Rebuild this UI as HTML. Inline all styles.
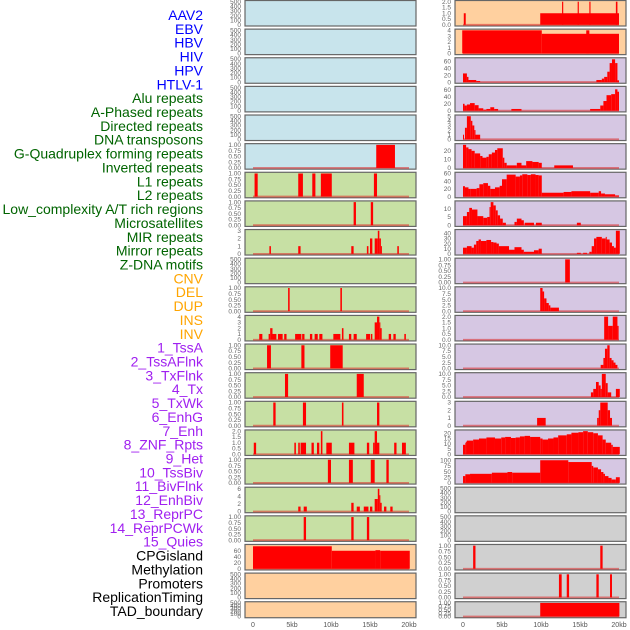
<!DOCTYPE html>
<html><head><meta charset="utf-8"><style>
html,body{margin:0;padding:0;background:#fff}
svg{display:block;font-family:"Liberation Sans",sans-serif}
</style></head><body>
<svg id="c" width="630" height="630" viewBox="0 0 630 630"></svg>
<script>
// ---------- labels ----------
const labelNames = ["AAV2","EBV","HBV","HIV","HPV","HTLV-1","Alu repeats","A-Phased repeats","Directed repeats","DNA transposons","G-Quadruplex forming repeats","Inverted repeats","L1 repeats","L2 repeats","Low_complexity A/T rich regions","Microsatellites","MIR repeats","Mirror repeats","Z-DNA motifs","CNV","DEL","DUP","INS","INV","1_TssA","2_TssAFlnk","3_TxFlnk","4_Tx","5_TxWk","6_EnhG","7_Enh","8_ZNF_Rpts","9_Het","10_TssBiv","11_BivFlnk","12_EnhBiv","13_ReprPC","14_ReprPCWk","15_Quies","CPGisland","Methylation","Promoters","ReplicationTiming","TAD_boundary"];
const labelGroups = [6,13,5,15,5];
const groupColors = ["#0000ff","#006400","#ffa500","#a020f0","#000000"];
const xTicks = [0,5,10,15,20];
const xTickLabels = ["0","5kb","10kb","15kb","20kb"];

// ---------- left column data [startKb, endKb, value] ----------
const L5 = [[15.8,18.2,1]];
const L6 = [[0.2,0.6,1],[5.8,6.4,1],[7.6,8.0,1],[8.7,10.1,1],[15.5,15.9,1]];
const L7 = [[12.9,13.2,1],[15.1,15.4,1]];
const L8 = [[2.1,2.3,1],[5.8,6.1,1],[12.6,12.9,1],[14.6,14.8,1],[15.0,15.3,2],[15.6,16.0,2],[16.0,16.2,3],[16.2,16.4,2],[16.4,16.5,1],[18.5,18.7,1]];
const L10 = [[4.5,4.7,1],[11.2,11.4,1]];
const L11 = [[0.8,1.2,1],[2.0,2.2,1],[2.2,2.5,2],[2.5,3.0,1],[3.2,3.8,1],[4.0,4.3,1],[5.4,6.2,1],[6.3,6.6,1],[7.3,7.6,1],[7.9,8.3,1],[8.5,8.9,1],[10.3,11.2,1],[11.4,11.6,2],[12.3,12.6,1],[12.9,13.3,1],[14.5,15.0,1],[15.1,15.3,1],[15.6,15.9,3],[15.9,16.2,4],[16.2,16.3,3],[16.3,16.5,2],[17.4,17.7,1],[18.0,18.3,1],[19.4,19.6,1]];
const L12 = [[1.8,2.3,1],[6.2,6.6,1],[9.9,11.5,1]];
const L13 = [[4.1,4.5,1],[13.3,14.2,1]];
const L14 = [[2.6,2.9,1],[6.4,6.8,1],[11.4,11.6,1],[15.9,16.2,1]];
const L15 = [[0.1,0.4,1],[5.3,5.5,1],[5.8,6.0,1],[6.1,6.8,1],[7.5,7.8,1],[8.2,8.5,1],[8.7,8.9,2],[9.4,10.1,1],[12.3,13.0,1],[14.6,14.9,1],[15.4,15.6,1],[15.6,15.9,2],[15.9,16.2,1],[18.1,18.4,1],[19.1,19.6,1]];
const L16 = [[9.6,10.0,1],[12.3,12.8,1],[15.1,15.6,1],[17.1,17.4,1]];
const L17 = [[5.8,6.1,1.3],[6.5,6.9,1.3],[12.6,12.9,2.3],[13.3,13.7,1.3],[14.2,14.8,1.3],[15.0,15.3,1.3],[15.6,16.0,3.3],[16.0,16.2,6],[16.2,16.3,4.3],[16.3,16.5,2.3],[16.8,17.1,1.3],[17.6,17.9,1.3]];
const L18 = [[6.5,6.8,1],[12.6,12.9,1],[14.6,14.9,1]];
const L19 = [[0,10.1,75],[10.1,15.7,60],[15.7,16.3,62],[16.3,20.1,60]];

// ---------- right column data ----------
const R0 = [[0.1,0.35,1],[9.9,20.0,1],[12.7,12.85,2],[14.7,14.85,2],[16.2,16.35,2],[19.6,19.8,2]];
const R1 = [[-0.1,10.1,4],[10.1,20.0,3.4],[15.8,16.2,4]];
const R2 = [[0,0.5,25],[0.5,0.7,15],[0.7,1.7,6],[1.7,2.2,3],[17.1,17.8,6],[17.8,18.1,10],[18.1,18.5,15],[18.5,18.8,30],[18.8,19.1,55],[19.1,19.5,66],[19.5,19.8,55],[19.8,20.0,5]];
const R3 = [[0,0.2,20],[0.2,0.5,15],[0.5,0.9,18],[0.9,1.5,22],[1.5,2.0,16],[2.0,2.6,7],[2.6,3.0,3],[3.0,3.5,5],[3.5,4.0,10],[4.0,4.5,5],[6.2,7.5,5],[16.3,17.6,5],[17.6,18.0,15],[18.0,18.4,28],[18.4,19.0,45],[19.0,19.5,48],[19.5,19.8,62],[19.8,20.0,55]];
const R4 = [[0,0.1,1],[0.25,0.5,2.5],[0.5,1.0,5],[1.0,1.2,4],[1.2,1.45,3],[1.45,1.6,2],[1.6,2.2,1]];
const R5 = [[0,0.4,27],[0.4,0.7,24],[0.7,1.1,22],[1.1,1.5,20],[1.5,2.2,17],[2.2,2.5,14],[2.5,3.0,12],[3.0,3.3,13],[3.3,3.7,16],[3.7,4.1,18],[4.1,4.4,21],[4.4,5.1,23],[5.1,5.3,12],[5.3,5.6,6],[5.6,6.9,3],[6.9,7.5,6],[7.5,8.1,3],[8.1,8.9,8],[8.9,9.7,7],[9.7,10.1,6],[11.7,14.1,3]];
const R6 = [[0,0.25,27],[0.25,0.7,24],[0.7,1.0,20],[1.0,1.75,20],[1.75,2.1,22],[2.1,2.6,32],[2.6,3.2,35],[3.2,3.5,28],[3.5,4.1,20],[4.1,4.7,24],[4.7,5.0,28],[5.0,5.6,45],[5.6,6.75,57],[6.75,7.3,52],[7.3,7.6,55],[7.6,8.25,58],[8.25,8.7,56],[8.7,9.3,58],[9.3,9.7,56],[9.7,10.1,55],[10.1,12.9,10],[12.9,13.9,12],[13.9,16.3,14],[16.3,17.4,10],[17.4,17.7,14],[17.7,18.2,8],[18.2,19.5,6],[19.5,20.0,3]];
const R7 = [[0,0.5,5.5],[0.5,0.8,8],[0.8,1.15,10.5],[1.15,1.85,9.5],[1.85,2.6,5.5],[2.6,3.1,4.5],[3.1,3.4,5],[3.4,3.55,11],[3.55,3.9,14],[3.9,4.2,12],[4.2,4.45,9],[4.45,4.75,6],[4.75,5.1,4],[5.1,5.5,1.5],[6.6,6.9,2],[6.9,7.5,4],[7.5,7.8,3],[7.9,9.1,1.5],[9.35,10.1,1.5],[14.6,15.1,1.5]];
const R8 = [[0,0.5,12],[0.5,1.1,15],[1.1,1.4,12],[1.4,1.7,18],[1.7,2.0,25],[2.0,2.3,28],[2.3,3.0,25],[3.0,3.6,27],[3.6,3.9,23],[3.9,4.3,22],[4.3,4.6,20],[4.6,5.9,15],[5.9,6.6,8],[6.6,7.5,13],[7.5,7.8,8],[7.8,9.1,4],[9.1,9.7,7],[9.7,10.1,10],[14.6,15.1,2],[15.4,15.9,2],[16.2,16.5,4],[16.5,16.8,15],[16.8,17.1,30],[17.1,17.8,33],[17.8,18.3,30],[18.3,18.4,33],[18.4,18.8,28],[18.8,19.1,22],[19.1,19.35,15],[19.35,19.6,12],[19.6,20.1,45]];
const R9 = [[13.1,13.7,1]];
const R10 = [[9.9,10.2,10],[10.2,10.4,8.5],[10.4,10.7,5.5],[10.7,11.0,3.5],[11.0,11.2,2.5],[11.2,12.3,1.5]];
const R11 = [[18.1,18.6,2],[18.6,19.2,1.2],[19.2,19.8,2],[19.8,19.95,1.2]];
const R12 = [[17.65,18.0,1.5],[18.0,18.2,4.5],[18.2,18.5,8.5],[18.5,18.8,10],[18.8,19.05,4.5],[19.05,19.3,3.5],[19.3,19.55,2.5],[19.55,19.8,1.5]];
const R13 = [[16.4,16.7,2],[16.7,17.05,3.5],[17.05,17.4,6.5],[17.4,17.65,5],[17.65,17.8,3.5],[17.8,18.3,10],[18.3,18.55,6],[18.55,19.0,2],[19.6,20.1,3.5]];
const R14 = [[9.5,10.6,1],[17.2,17.4,1],[17.4,17.6,2],[17.6,18.55,3],[18.55,18.85,2],[18.85,19.1,1]];
const R15 = [[0,0.3,9],[0.3,0.4,11],[0.4,0.5,12],[0.5,1.3,13],[1.3,2.05,14],[2.05,3.0,15],[3.0,4.1,16],[4.1,4.9,15],[4.9,5.4,16],[5.4,6.15,16.5],[6.15,6.75,15.5],[6.75,7.3,16],[7.3,7.9,17],[7.9,8.6,17.5],[8.6,9.9,16.5],[9.9,10.2,15],[10.2,10.9,14],[10.9,11.6,15],[11.6,12.2,16],[12.2,13.3,18],[13.3,13.9,19],[13.9,14.8,20.5],[14.8,15.4,21],[15.4,16.0,22],[16.0,16.7,21],[16.7,17.3,20],[17.3,17.9,18],[17.9,18.3,14],[18.3,19.0,11],[19.0,19.2,9],[19.2,20.1,7]];
const R16 = [[0,0.3,30],[0.3,0.9,38],[0.9,3.7,40],[3.7,5.7,45],[5.7,6.3,48],[6.3,9.9,45],[9.9,13.5,100],[13.5,16.5,92],[16.5,16.7,75],[16.7,17.3,68],[17.3,17.7,60],[17.7,18.0,48],[18.0,18.2,40],[18.2,18.65,30],[18.65,19.05,22],[19.05,19.6,15],[19.6,20.1,25]];
const R19 = [[1.3,1.6,1],[17.6,17.9,1]];
const R20 = [[12.3,12.65,1],[13.3,13.6,1],[17.1,17.4,1],[18.85,19.1,1]];
const R21 = [[9.9,20.05,1]];

// tick sets
const T500=[0,100,200,300,400,500], T1=[0,0.25,0.5,0.75,1], T2=[0,0.5,1,1.5,2], T10=[0,2.5,5,7.5,10];
const BLUE="#c8e4ec", GREEN="#c7e0a4", ORANGE="#ffd09f", PURPLE="#d6c7e3", GRAY="#d0d0d0";

const leftRows = [
 [BLUE,T500,500,null,0],[BLUE,T500,500,null,0],[BLUE,T500,500,null,0],[BLUE,T500,500,null,0],[BLUE,T500,500,null,0],
 [BLUE,T1,1,L5,2],[GREEN,T1,1,L6,2],[GREEN,T1,1,L7,2],[GREEN,[0,1,2,3],3,L8,0],[GREEN,T500,500,null,0],
 [GREEN,T1,1,L10,2],[GREEN,[0,1,2,3,4],4,L11,0],[GREEN,T1,1,L12,2],[GREEN,T1,1,L13,2],[GREEN,T1,1,L14,2],
 [GREEN,T2,2,L15,1],[GREEN,T1,1,L16,2],[GREEN,[0,2,4,6],6.1,L17,0],[GREEN,T1,1,L18,2],[ORANGE,[0,20,40,60],77,L19,0],
 [ORANGE,T500,500,null,0],[ORANGE,T500,500,null,0]];
const rightRows = [
 [ORANGE,T2,2,R0,1],[ORANGE,[0,1,2,3,4],4,R1,0],[PURPLE,[0,20,40,60],67,R2,0],[PURPLE,[0,20,40,60],67,R3,0],[PURPLE,[0,1,2,3,4,5],5,R4,0],
 [PURPLE,[0,10,20],27,R5,0],[PURPLE,[0,20,40,60],60,R6,0],[PURPLE,[0,5,10],14,R7,0],[PURPLE,[0,10,20,30,40],45,R8,0],[PURPLE,T1,1,R9,2],
 [PURPLE,T10,10,R10,1],[PURPLE,T2,2,R11,1],[PURPLE,T10,10,R12,1],[PURPLE,T10,10,R13,1],[PURPLE,[0,1,2,3],3,R14,0],
 [PURPLE,[0,5,10,15,20],22,R15,0],[PURPLE,[0,25,50,75,100],102,R16,0],[GRAY,T500,500,null,0],[GRAY,T500,500,null,0],[GRAY,T1,1,R19,2],
 [GRAY,T1,1,R20,2],[GRAY,T1,1,R21,2]];

const NS="http://www.w3.org/2000/svg";
const svg=document.getElementById('c');
function mk(tag,attrs,parent){const e=document.createElementNS(NS,tag);for(const k in attrs)e.setAttribute(k,attrs[k]);(parent||svg).appendChild(e);return e;}

// labels
let idx=0;
labelGroups.forEach((n,g)=>{for(let j=0;j<n;j++){
  const t=mk('text',{x:203,y:(15+idx*13.86+5).toFixed(1),'text-anchor':'end','font-size':'14',fill:groupColors[g]});
  t.textContent=labelNames[idx];
  
  
  idx++;}});

function panel(col,i,row){
  const [bg,ticks,ymax,data,dec]=row;
  const px= col===0?245:455, x0kb = col===0?253:463, pw=171;
  const top=0.5+i*28.63, h = i===21?16:25.5;
  const xs=kb=>x0kb+kb*7.8;
  const ys=v=>top+h-1.2-(v/ymax)*(h-2.4);
  const g=mk('g',{});
  
  
  mk('rect',{x:px,y:top,width:pw,height:h,fill:bg,stroke:'#666','stroke-width':1.2},g);
  ticks.forEach(tv=>{
    const t=mk('text',{x:px-4,y:(ys(tv)+2.2).toFixed(1),'text-anchor':'end','font-size':'6.5',fill:'#666'},g);
    t.textContent=dec?tv.toFixed(dec):String(tv);
    
    
  });
  if(data){
    mk('line',{x1:xs(0),x2:xs(20),y1:ys(0),y2:ys(0),stroke:'rgba(220,40,40,0.55)','stroke-width':1.8},g);
    data.forEach(d=>{
      const r=mk('rect',{x:xs(d[0]),y:ys(d[2]),width:Math.max(1,xs(d[1])-xs(d[0])),height:ys(0)-ys(d[2]),fill:'#ff0000'},g);
      
      
    });
  }
}
leftRows.forEach((r,i)=>panel(0,i,r));
rightRows.forEach((r,i)=>panel(1,i,r));

// x axes
[253,463].forEach(x0=>{
  xTicks.forEach((k,j)=>{
    const t=mk('text',{x:x0+k*7.8,y:627,'text-anchor':'middle','font-size':'7',fill:'#555'});
    t.textContent=xTickLabels[j];
    
    
  });
});
</script>
</body></html>
